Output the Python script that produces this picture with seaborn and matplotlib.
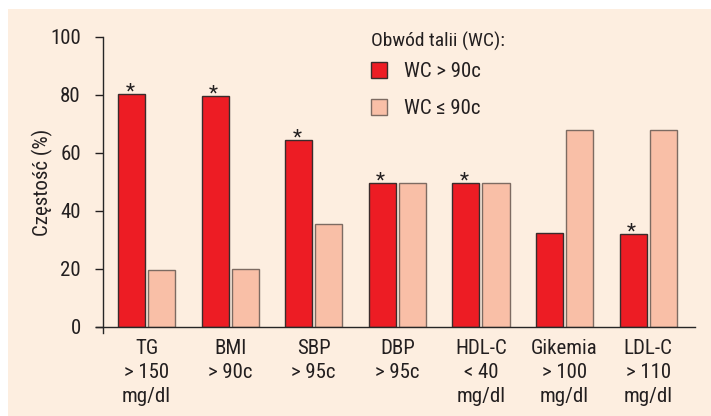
import numpy as np
import pandas as pd
import matplotlib
matplotlib.use("Agg")
import matplotlib.pyplot as plt
import seaborn as sns
from matplotlib.patches import Rectangle, Patch
from matplotlib import font_manager

categories = ["TG\n> 150\nmg/dl", "BMI\n> 90c", "SBP\n> 95c", "DBP\n> 95c",
              "HDL-C\n< 40\nmg/dl", "Gikemia\n> 100\nmg/dl", "LDL-C\n> 110\nmg/dl"]
wc_high = [80.3, 79.5, 64.5, 49.6, 49.6, 32.4, 32.2]
wc_low = [19.6, 20.0, 35.6, 49.6, 49.6, 67.8, 67.8]
significant = [True, True, True, True, True, False, True]
series_names = ["WC > 90c", "WC \u2264 90c"]

df = pd.DataFrame({
    "cat": categories * 2,
    "val": wc_high + wc_low,
    "grp": [series_names[0]] * len(categories) + [series_names[1]] * len(categories),
})

bg = "#fdeee0"
red = "#ed1c24"
pink = "#f9bfa7"

sns.set_style("ticks")
names = {f.name for f in font_manager.fontManager.ttflist}
fam = "Liberation Sans"
for cand in ["Liberation Sans Narrow", "Roboto Condensed", "DejaVu Sans Condensed", "Open Sans Condensed"]:
    if cand in names:
        fam = cand
        break
plt.rcParams["font.family"] = [fam, "DejaVu Sans"]
plt.rcParams["text.color"] = "#231f20"
plt.rcParams["axes.labelcolor"] = "#231f20"
plt.rcParams["xtick.color"] = "#231f20"
plt.rcParams["ytick.color"] = "#231f20"

fig = plt.figure(figsize=(7.11, 4.16), dpi=100)
fig.patch.set_facecolor("white")
fig.patches.append(Rectangle((8 / 711, 0), 1, 1 - 9 / 416, transform=fig.transFigure,
                             facecolor=bg, edgecolor="none", zorder=-10))
ax = fig.add_axes([96 / 711, (416 - 327) / 416, (695 - 96) / 711, (327 - 37) / 416])
ax.set_facecolor("none")

sns.barplot(data=df, x="cat", y="val", hue="grp", hue_order=series_names,
            palette=[red, pink], width=0.72, gap=0.1, ax=ax, legend=False,
            linewidth=1.0, saturation=1)
for i, p in enumerate(ax.patches):
    p.set_edgecolor("#3a2c2c" if i < len(categories) else "#7d6b62")

for i, (v, s) in enumerate(zip(wc_high, significant)):
    if s:
        ax.text(i - 0.2, v - 1.2, "*", ha="center", va="baseline", fontsize=15)

ax.set_ylim(0, 100)
ax.set_xlim(-0.604, 6.56)
ax.set_yticks([0, 20, 40, 60, 80, 100])
ax.tick_params(axis="y", labelsize=15, length=6, width=1, pad=10)
ax.tick_params(axis="x", labelsize=15, length=0, pad=9)
for t in ax.get_xticklabels():
    t.set_linespacing(1.3)
ax.set_xlabel("")
ax.set_ylabel("Cz\u0119sto\u015b\u0107 (%)", fontsize=15)
ax.yaxis.set_label_coords(-0.072, 0.5)
for s in ["top", "right"]:
    ax.spines[s].set_visible(False)
ax.spines["left"].set_position(("data", -0.52))
ax.spines["left"].set_bounds(-2.2, 100)
ax.spines["left"].set_linewidth(1)
ax.spines["bottom"].set_linewidth(1)

handles = [Patch(facecolor=red, edgecolor="#3a2c2c"), Patch(facecolor=pink, edgecolor="#7d6b62")]
leg = ax.legend(handles, series_names, title="Obw\u00f3d talii (WC):", loc="upper left",
                bbox_to_anchor=(0.427, 1.083), frameon=False, fontsize=15, title_fontsize=14,
                handlelength=0.8, handleheight=0.8, labelspacing=0.85, handletextpad=0.8)
leg._legend_box.align = "left"
leg._legend_box.sep = 8

fig.savefig("out.png", dpi=100, facecolor=fig.get_facecolor())
